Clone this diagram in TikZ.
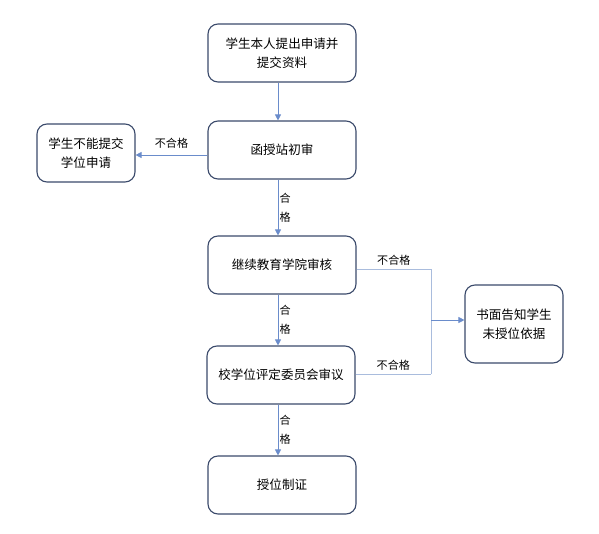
\documentclass[tikz,border=0pt]{standalone}
\usepackage{fontspec}
\setmainfont{Noto Sans CJK SC}
\usetikzlibrary{arrows.meta}
\definecolor{boxline}{HTML}{3B4A6B}
\definecolor{flowline}{HTML}{6A8CCB}
\definecolor{mergecol}{HTML}{A9BCDD}
\tikzset{
  stagebox/.style={draw=boxline, line width=0.85pt, rounded corners=7.5pt, fill=white,
    minimum width=111pt, minimum height=43.5pt, align=center, font=\fontsize{9.4}{14}\selectfont},
  sidebox/.style={stagebox, minimum width=73.5pt, minimum height=43.5pt},
  flow/.style={draw=flowline, line width=0.6pt, -{Triangle[length=4.5pt,width=4.5pt]}},
  mergeline/.style={draw=mergecol, line width=0.7pt},
  verdict/.style={font=\fontsize{8.3}{12}\selectfont, inner sep=1pt},
}
\begin{document}
\begin{tikzpicture}[x=0.75pt, y=-0.75pt]
\useasboundingbox (0,0) rectangle (599,533);

% main stages, top to bottom
\node[stagebox] (apply)   at (282,53)  {学生本人提出申请并\\提交资料};
\node[stagebox] (station) at (282,150) {函授站初审};
\node[stagebox] (college) at (282,265) {继续教育学院审核};
\node[stagebox] (board)   at (281,375) {校学位评定委员会审议};
\node[stagebox] (grant)   at (282,485) {授位制证};

% side outcomes
\node[sidebox] (refuse) at (86,153)  {学生不能提交\\学位申请};
\node[sidebox, minimum height=58.5pt] (notify) at (514,324) {书面告知学生\\未授位依据};

% pass arrows with stacked labels
\draw[flow] (apply.south -| 278,0) -- (station.north -| 278,0);
\foreach \a/\b in {station/college, college/board, board/grant} {
    \draw[flow] (\a.south -| 278,0) -- node[verdict, right, align=center] {合\\[2pt]格} (\b.north -| 278,0);
}

% reject at first check
\draw[flow] (station.west |- 0,155) -- node[verdict, above=4pt] {不合格} (refuse.east |- 0,155);

% reject at college or board
\coordinate (joinTop) at (431,269);
\coordinate (joinBot) at (431,374);
\coordinate (joinMid) at (431,320);
\draw[mergeline] (college.east |- joinTop) -- node[verdict, above=1pt, pos=0.5] {不合格} (joinTop) -- (joinBot);
\draw[mergeline] (board.east |- joinBot) -- node[verdict, above=1pt, pos=0.5] {不合格} (joinBot);
\draw[flow] (joinMid) -- (notify.west |- joinMid);
\end{tikzpicture}
\end{document}
